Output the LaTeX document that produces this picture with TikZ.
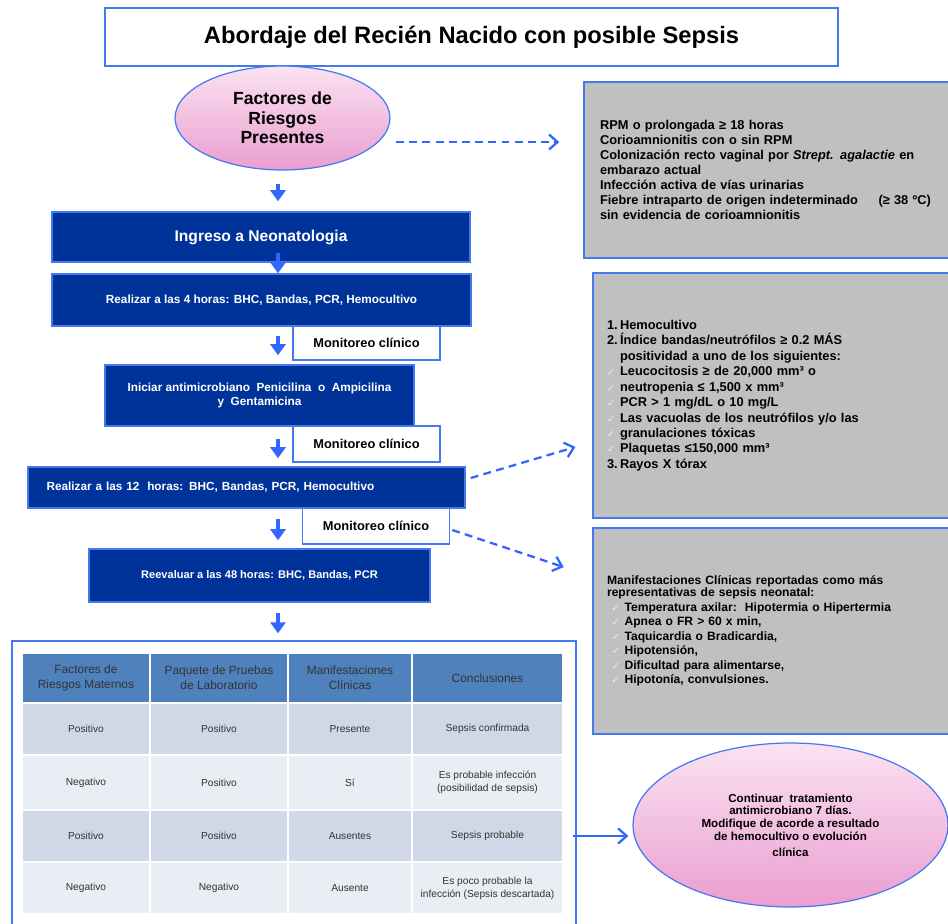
\documentclass[tikz,border=0pt]{standalone}
\usepackage{fontspec}
\setmainfont{Liberation Sans}
\newfontfamily\chkfont{DejaVu Sans}
\usetikzlibrary{arrows, arrows.meta}
\usetikzlibrary{calc}
\usetikzlibrary{shapes.geometric}

\definecolor{boxblue}{RGB}{0,51,153}
\definecolor{edgeblue}{RGB}{70,120,240}
\definecolor{arrblue}{RGB}{51,102,255}
\definecolor{panelgrey}{RGB}{192,192,192}
\definecolor{pinktop}{RGB}{250,226,241}
\definecolor{pinkbot}{RGB}{234,158,208}
\definecolor{hdblue}{RGB}{79,129,189}
\definecolor{rowdark}{RGB}{208,216,232}
\definecolor{rowlight}{RGB}{233,237,244}

\newcommand{\ckm}{\makebox[2.6mm][l]{\chkfont\fontsize{5.5}{6}\selectfont\color{white!70!panelgrey}✓}}

\tikzset{
  titlebox/.style={rectangle, draw=edgeblue, line width=0.7pt, fill=white, inner sep=0pt},
  flowbox/.style={rectangle, draw=edgeblue, line width=0.9pt, fill=boxblue, text=white, inner sep=0pt, align=center, font=\bfseries\fontsize{6.7}{8}\selectfont},
  monbox/.style={rectangle, draw=edgeblue, line width=0.9pt, fill=white, inner sep=0pt, minimum width=2.94cm, font=\bfseries\fontsize{7.3}{8.5}\selectfont},
  panel/.style={rectangle, draw=edgeblue, line width=0.9pt, fill=panelgrey, inner ysep=0pt, align=left},
  bubble/.style={ellipse, draw=edgeblue, line width=0.7pt, top color=pinktop, bottom color=pinkbot, inner sep=0pt, align=center},
  cell/.style={rectangle, draw=white, line width=1pt, inner sep=0pt, align=center, text=black!80, font=\fontsize{5.8}{7.5}\selectfont},
  hdrow/.style={cell, fill=hdblue, minimum height=1cm, font=\fontsize{6.8}{8.5}\selectfont},
  darkrow/.style={cell, fill=rowdark, minimum height=1.04cm},
  lightrow/.style={cell, fill=rowlight, minimum height=1.04cm},
  colA/.style={minimum width=2.56cm},
  colB/.style={minimum width=2.76cm},
  colC/.style={minimum width=2.48cm},
  colD/.style={minimum width=3.02cm},
  downarr/.style={arrblue, line width=2.2pt, -{Triangle[length=2.2mm, width=3mm]}},
  dasharr/.style={arrblue, line width=1.3pt, dash pattern=on 4.5pt off 3pt, -{Straight Barb[length=1.7mm, width=3mm]}},
  solidarr/.style={arrblue, line width=1.3pt, -{Straight Barb[length=1.7mm, width=3mm]}}
}

\begin{document}
\begin{tikzpicture}[x=0.02cm, y=-0.02cm]
      \useasboundingbox (0,0) rectangle (948,924);

      \node[titlebox, minimum width=14.66cm, minimum height=1.16cm, font=\bfseries\fontsize{13.5}{16}\selectfont] (title) at (471.5,37) {Abordaje del Recién Nacido con posible Sepsis};

      \node[bubble, minimum width=4.3cm, minimum height=2.08cm, font=\bfseries\fontsize{10}{11}\selectfont] (risk) at (282.5,118) {Factores de\\Riesgos\\Presentes};

      \node[panel, minimum width=7.72cm, minimum height=3.52cm, inner xsep=0.32cm, text width=7.08cm, font=\bfseries\fontsize{7.3}{8.5}\selectfont] (riskpanel) at (777,170) {RPM o prolongada ≥ 18 horas\\
        Corioamnionitis con o sin RPM\\
        Colonización recto vaginal por \textit{Strept. agalactie} en\\
        embarazo actual\\
        Infección activa de vías urinarias\\
        Fiebre intraparto de origen indeterminado\hspace{1.6em}(≥ 38 ºC)\\
        sin evidencia de corioamnionitis};

      \node[flowbox, minimum width=8.36cm, minimum height=1cm, font=\bfseries\fontsize{8.9}{10}\selectfont] (ingreso) at (261,237) {Ingreso a Neonatologia};
      \node[flowbox, minimum width=8.38cm, minimum height=1.04cm] (lab4) at (261.5,300) {Realizar a las 4 horas: BHC, Bandas, PCR, Hemocultivo};
      \node[monbox, minimum height=0.68cm] (mon1) at (366.5,343) {Monitoreo clínico};
      \node[flowbox, minimum width=6.18cm, minimum height=1.22cm] (abx) at (259.5,395.5) {Iniciar antimicrobiano\ \ Penicilina\ \ o\ \ Ampicilina\\y\ \ Gentamicina};
      \node[monbox, minimum height=0.72cm] (mon2) at (366.5,444) {Monitoreo clínico};
      \node[flowbox, minimum width=8.74cm, minimum height=0.82cm, text width=8cm, align=left] (lab12) at (246.5,487.5) {Realizar a las 12\ \ horas: BHC, Bandas, PCR, Hemocultivo};
      \node[monbox, minimum height=0.72cm] (mon3) at (376,526) {Monitoreo clínico};
      \node[flowbox, minimum width=6.82cm, minimum height=1.06cm, font=\bfseries\fontsize{6.3}{8}\selectfont] (lab48) at (259.5,575.5) {Reevaluar a las 48 horas: BHC, Bandas, PCR};

      \node[panel, minimum width=7.54cm, minimum height=4.9cm, inner xsep=0.28cm, text width=6.98cm, font=\bfseries\fontsize{7.3}{8.8}\selectfont] (labpanel) at (781.5,395.5) {\makebox[2.6mm][l]{1.}Hemocultivo\\
        \makebox[2.6mm][l]{2.}Índice bandas/neutrófilos ≥ 0.2 MÁS\\
        \hspace*{2.6mm}positividad a uno de los siguientes:\\
        \ckm Leucocitosis ≥ de 20,000 mm³ o\\
        \ckm neutropenia ≤ 1,500 x mm³\\
        \ckm PCR > 1 mg/dL o 10 mg/L\\
        \ckm Las vacuolas de los neutrófilos y/o las\\
        \ckm granulaciones tóxicas\\
        \ckm Plaquetas ≤150,000 mm³\\
        \makebox[2.6mm][l]{3.}Rayos X tórax};

      \node[panel, minimum width=7.54cm, minimum height=4.12cm, inner xsep=0.28cm, text width=6.98cm, font=\bfseries\fontsize{6.9}{8.3}\selectfont] (clinpanel) at (781.5,631) {Manifestaciones Clínicas reportadas como más\\[-1.5pt]
        representativas de sepsis neonatal:\\
        \hspace*{0.9mm}\ckm Temperatura axilar:\ \ Hipotermia o Hipertermia\\
        \hspace*{0.9mm}\ckm Apnea o FR > 60 x min,\\
        \hspace*{0.9mm}\ckm Taquicardia o Bradicardia,\\
        \hspace*{0.9mm}\ckm Hipotensión,\\
        \hspace*{0.9mm}\ckm Dificultad para alimentarse,\\
        \hspace*{0.9mm}\ckm Hipotonía, convulsiones.};

      \node[titlebox, line width=0.9pt, minimum width=11.28cm, minimum height=5.88cm] (tabla) at (294,788) {};

      \node[hdrow, colA] (h1) at (86,678) {Factores de\\Riesgos Maternos};
      \node[hdrow, colB] (h2) at (219,678) {Paquete de Pruebas\\de Laboratorio};
      \node[hdrow, colC] (h3) at (350,678) {Manifestaciones\\Clínicas};
      \node[hdrow, colD] (h4) at (487.5,678) {Conclusiones};

      \node[darkrow, colA] (r1a) at (86,729) {Positivo};
      \node[darkrow, colB] (r1b) at (219,729) {Positivo};
      \node[darkrow, colC] (r1c) at (350,729) {Presente};
      \node[darkrow, colD] (r1d) at (487.5,729) {Sepsis confirmada};

      \node[lightrow, colA, minimum height=1.1cm] (r2a) at (86,782.5) {Negativo};
      \node[lightrow, colB, minimum height=1.1cm] (r2b) at (219,782.5) {Positivo};
      \node[lightrow, colC, minimum height=1.1cm] (r2c) at (350,782.5) {Sí};
      \node[lightrow, colD, minimum height=1.1cm] (r2d) at (487.5,782.5) {Es probable infección\\(posibilidad de sepsis)};

      \node[darkrow, colA] (r3a) at (86,836) {Positivo};
      \node[darkrow, colB] (r3b) at (219,836) {Positivo};
      \node[darkrow, colC] (r3c) at (350,836) {Ausentes};
      \node[darkrow, colD] (r3d) at (487.5,836) {Sepsis probable};

      \node[lightrow, colA] (r4a) at (86,888) {Negativo};
      \node[lightrow, colB] (r4b) at (219,888) {Negativo};
      \node[lightrow, colC] (r4c) at (350,888) {Ausente};
      \node[lightrow, colD] (r4d) at (487.5,888) {Es poco probable la\\infección (Sepsis descartada)};

      \node[bubble, minimum width=6.3cm, minimum height=3.28cm, font=\bfseries\fontsize{6.6}{7.2}\selectfont] (outcome) at (790.5,825) {Continuar\ \ tratamiento\\antimicrobiano 7 días.\\Modifique de acorde a resultado\\de hemocultivo o evolución\\[2pt]clínica};

      \coordinate (spine) at (278,0);
      \draw[downarr, shorten <=2.6mm, shorten >=2mm] (risk.south -| spine) -- (ingreso.north -| spine);
      \draw[downarr, shorten <=-2mm] (ingreso.south -| spine) -- (lab4.north -| spine);
      \draw[downarr, shorten <=1.8mm, shorten >=1.8mm] (lab4.south -| spine) -- (abx.north -| spine);
      \draw[downarr, shorten <=2.4mm, shorten >=1.6mm] (abx.south -| spine) -- (lab12.north -| spine);
      \draw[downarr, shorten <=2mm, shorten >=1.6mm] (lab12.south -| spine) -- (lab48.north -| spine);
      \draw[downarr, shorten <=2mm, shorten >=1.4mm] (lab48.south -| spine) -- (tabla.north -| spine);

      \draw[dasharr, shorten >=4.8mm] ([xshift=1.1mm, yshift=-4.8mm]risk.east) -- ([yshift=-4.8mm]risk.east -| riskpanel.west);
      \draw[dasharr, shorten >=3.5mm] ([xshift=1mm, yshift=1.9mm]lab12.east) -- ([yshift=-9.3mm]labpanel.west);
      \draw[dasharr, shorten >=6mm] ([xshift=0.4mm, yshift=-0.8mm]mon3.east) -- ([yshift=10.9mm]clinpanel.west);
      \draw[solidarr, shorten <=-0.8mm, shorten >=0.8mm] (tabla.east |- r3d) -- (r3d -| outcome.west);
    \end{tikzpicture}
\end{document}
